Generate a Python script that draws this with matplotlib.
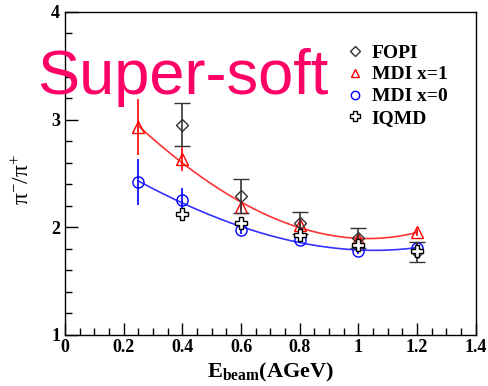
import numpy as np
import matplotlib
matplotlib.use("Agg")
import matplotlib.pyplot as plt
from matplotlib.ticker import MultipleLocator
from matplotlib.lines import Line2D

plt.rcParams["mathtext.fontset"] = "custom"
plt.rcParams["mathtext.rm"] = "Liberation Serif"
plt.rcParams["mathtext.it"] = "Liberation Serif:italic"
plt.rcParams["mathtext.bf"] = "Liberation Serif:bold"

# Data
energy_mdi = [0.25, 0.4, 0.6, 0.8, 1.0, 1.2]
mdi_x1 = [2.93, 2.63, 2.19, 2.02, 1.89, 1.95]
mdi_x1_err = [0.26, 0.11, 0.03, 0.03, 0.03, 0.03]
mdi_x0 = [2.42, 2.25, 1.97, 1.88, 1.78, 1.81]
mdi_x0_err = [0.21, 0.11, 0.03, 0.03, 0.03, 0.03]

energy_exp = [0.4, 0.6, 0.8, 1.0, 1.2]
fopi = [2.95, 2.29, 2.04, 1.90, 1.77]
fopi_err = [0.20, 0.16, 0.10, 0.09, 0.09]
iqmd = [2.12, 2.04, 1.93, 1.83, 1.78]

x_ticks = [0, 0.2, 0.4, 0.6, 0.8, 1.0, 1.2, 1.4]
x_ticklabels = ["0", "0.2", "0.4", "0.6", "0.8", "1", "1.2", "1.4"]
y_ticks = [1, 2, 3, 4]

serif = ["Liberation Serif", "DejaVu Serif"]

fig = plt.figure(figsize=(4.88, 3.86), dpi=100)
ax = fig.add_axes([0.1332, 0.133, 0.8418, 0.836])

# Fitted curves
xs = np.linspace(energy_mdi[0], energy_mdi[-1], 200)
c1 = np.polyfit(energy_mdi, mdi_x1, 3)
c0 = np.polyfit(energy_mdi, mdi_x0, 3)
ax.plot(xs, np.polyval(c1, xs), color="#ff3333", lw=1.2, zorder=2)
ax.plot(xs, np.polyval(c0, xs), color="#3333ff", lw=1.2, zorder=2)

ax.errorbar(energy_mdi, mdi_x1, yerr=mdi_x1_err, fmt="^", mfc="none", mec="red",
            ecolor="red", ms=8, mew=1.0, elinewidth=1.2, capsize=0, zorder=3)
ax.errorbar(energy_mdi, mdi_x0, yerr=mdi_x0_err, fmt="o", mfc="none", mec="blue",
            ecolor="blue", ms=8, mew=1.0, elinewidth=1.2, capsize=0, zorder=3)
ax.errorbar(energy_exp, fopi, yerr=fopi_err, fmt="D", mfc="none", mec="#333333",
            ecolor="#333333", ms=6, mew=1.0, elinewidth=1.2, capsize=6, capthick=1.2,
            zorder=4)
ax.plot(energy_exp, iqmd, "P", mfc="white", mec="black", ms=9, mew=1.0, ls="none",
        zorder=5)

ax.set_xlim(0, 1.4)
ax.set_ylim(1, 4)
ax.set_xticks(x_ticks)
ax.set_xticklabels(x_ticklabels)
ax.set_yticks(y_ticks)
ax.xaxis.set_minor_locator(MultipleLocator(0.05))
ax.yaxis.set_minor_locator(MultipleLocator(0.2))
ax.tick_params(which="both", direction="in", top=False, right=False,
               labelsize=13, width=1.0)
ax.tick_params(which="major", length=9)
ax.tick_params(which="minor", length=5)
for lab in ax.get_xticklabels() + ax.get_yticklabels():
    lab.set_family(serif)
    lab.set_fontweight("bold")
ax.tick_params(axis="x", pad=3)
for s in ax.spines.values():
    s.set_linewidth(1.0)

ax.set_xlabel(r"E$_{\mathbf{beam}}$(AGeV)", family=serif, fontweight="bold",
              fontsize=16, labelpad=4)
ax.set_ylabel(r"$\mathrm{\pi}^{-}/\mathrm{\pi}^{+}$", fontsize=17)
ax.yaxis.set_label_coords(-0.075, 0.48)

handles = [
    Line2D([], [], marker="D", ls="none", mfc="none", mec="#333333", ms=5, mew=1.0),
    Line2D([], [], marker="^", ls="none", mfc="none", mec="red", ms=6, mew=1.0),
    Line2D([], [], marker="o", ls="none", mfc="none", mec="blue", ms=6, mew=1.0),
    Line2D([], [], marker="P", ls="none", mfc="white", mec="black", ms=7, mew=1.0),
]
labels = ["FOPI", "MDI x=1", "MDI x=0", "IQMD"]
ax.legend(handles, labels, loc="upper left",
          bbox_to_anchor=(0.64, 0.955), frameon=False,
          prop={"family": serif, "weight": "bold", "size": 14},
          handlelength=1.0, handletextpad=0.35, labelspacing=0.22)

fig.text(0.076, 0.757, "Super-soft", color="#ff0066", fontsize=45.5,
         family=["Liberation Sans", "DejaVu Sans"])

fig.savefig("out.png", dpi=100)
